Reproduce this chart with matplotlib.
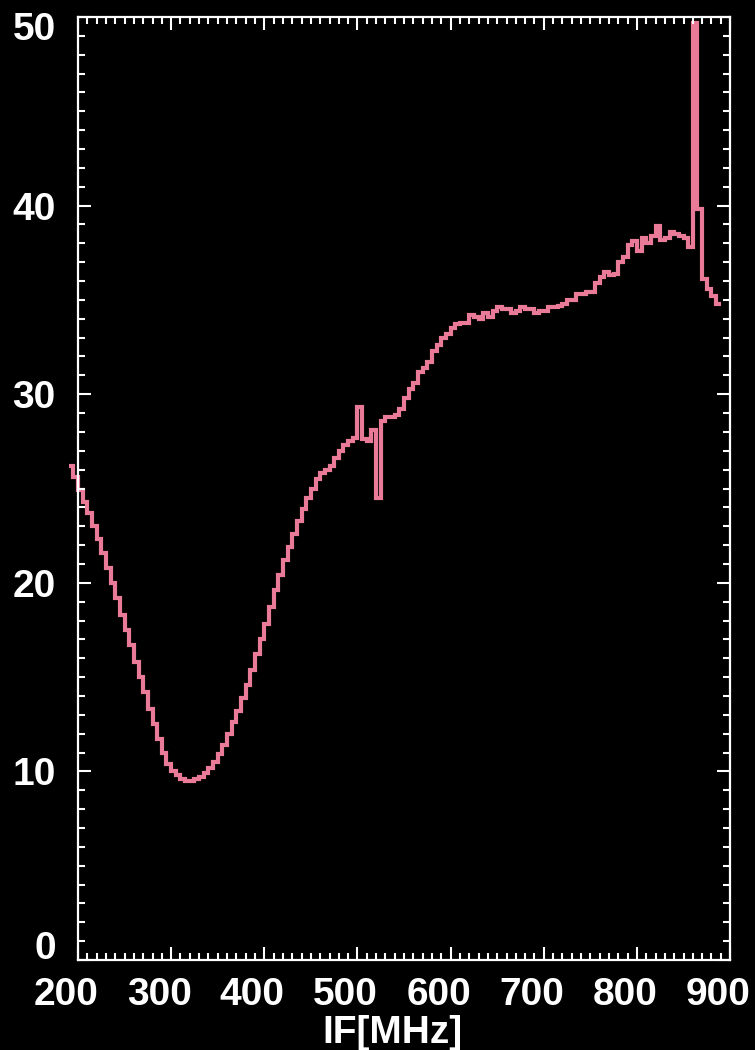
import matplotlib.pyplot as plt
import numpy as np
from matplotlib.ticker import MultipleLocator
from matplotlib.transforms import ScaledTranslation

# spectrum, 5 MHz channels starting at 190 MHz
chan_start = 190.0
chan_width = 5.0
power = [
    26.2, 25.6,                                             # 190-200
    24.9, 24.3, 23.7, 23.0, 22.3, 21.6, 20.8, 20.0, 19.2, 18.3,  # 200-250
    17.5, 16.7, 15.8, 15.0, 14.2, 13.3, 12.5, 11.7, 11.0, 10.4,  # 250-300
    10.0, 9.8, 9.6, 9.5, 9.5, 9.6, 9.7, 9.9, 10.2, 10.5,         # 300-350
    10.9, 11.4, 12.0, 12.6, 13.2, 13.9, 14.6, 15.4, 16.2, 17.0,  # 350-400
    17.8, 18.7, 19.6, 20.4, 21.2, 21.9, 22.6, 23.3, 23.9, 24.5,  # 400-450
    25.0, 25.5, 25.8, 26.0, 26.2, 26.6, 27.0, 27.3, 27.5, 27.7,  # 450-500
    29.3, 27.6, 27.5, 28.1, 24.5, 28.6, 28.8, 28.8, 28.9, 29.2,  # 500-550
    29.8, 30.3, 30.6, 31.2, 31.4, 31.7, 32.3, 32.6, 33.0, 33.2,  # 550-600
    33.5, 33.7, 33.8, 33.8, 34.2, 34.1, 34.0, 34.3, 34.1, 34.4,  # 600-650
    34.6, 34.5, 34.5, 34.3, 34.4, 34.6, 34.5, 34.5, 34.3, 34.4,  # 650-700
    34.4, 34.6, 34.6, 34.7, 34.8, 35.0, 35.0, 35.3, 35.3, 35.4,  # 700-750
    35.4, 35.9, 36.2, 36.5, 36.3, 36.4, 37.0, 37.3, 37.9, 38.1,  # 750-800
    37.6, 38.3, 38.0, 38.4, 38.9, 38.2, 38.3, 38.6, 38.5, 38.4,  # 800-850
    38.3, 37.8, 49.7, 39.8, 36.1, 35.6, 35.2, 34.8,              # 850-890
]
edges = chan_start + chan_width * np.arange(len(power) + 1)

x_ticks = [200, 300, 400, 500, 600, 700, 800, 900]
y_ticks = [0, 10, 20, 30, 40, 50]

plt.rcParams['font.family'] = ['Liberation Sans', 'DejaVu Sans']
plt.rcParams['font.weight'] = 'bold'

fig = plt.figure(figsize=(7.55, 10.5), dpi=100, facecolor='black')
ax = fig.add_axes([0.1033, 0.0857, 0.8637, 0.8981], facecolor='black')

ax.stairs(power, edges, color='#E97A98', linewidth=3.0, baseline=None, clip_on=False)

ax.set_xlim(200, 900)
ax.set_ylim(0, 50)
ax.set_xticks(x_ticks)
ax.set_yticks(y_ticks)
ax.xaxis.set_minor_locator(MultipleLocator(10))
ax.yaxis.set_minor_locator(MultipleLocator(1))

for s in ax.spines.values():
    s.set_color('white')
    s.set_linewidth(1.6)

ax.tick_params(which='both', direction='in', colors='white', top=True, right=True, width=1.5)
ax.tick_params(which='major', length=9.5, labelsize=28, pad=16)
ax.tick_params(which='minor', length=4.8)
ax.tick_params(axis='x', which='major', pad=12)

# IDL-style label placement: x labels sit a little left, end y labels pulled inward
dpi_scale = fig.dpi_scale_trans
for t in ax.xaxis.get_major_ticks():
    t.label1.set_transform(t.label1.get_transform() + ScaledTranslation(-12 / 100, 0, dpi_scale))
yt = ax.yaxis.get_major_ticks()
yt[0].label1.set_transform(yt[0].label1.get_transform() + ScaledTranslation(0, 15 / 100, dpi_scale))
yt[-1].label1.set_transform(yt[-1].label1.get_transform() + ScaledTranslation(0, -9 / 100, dpi_scale))

ax.set_xlabel('IF[MHz]', color='white', fontsize=28, fontweight='bold')
ax.xaxis.set_label_coords(0.5 - 12 / 652, -0.058)

fig.savefig('out.png', dpi=100, facecolor='black')
